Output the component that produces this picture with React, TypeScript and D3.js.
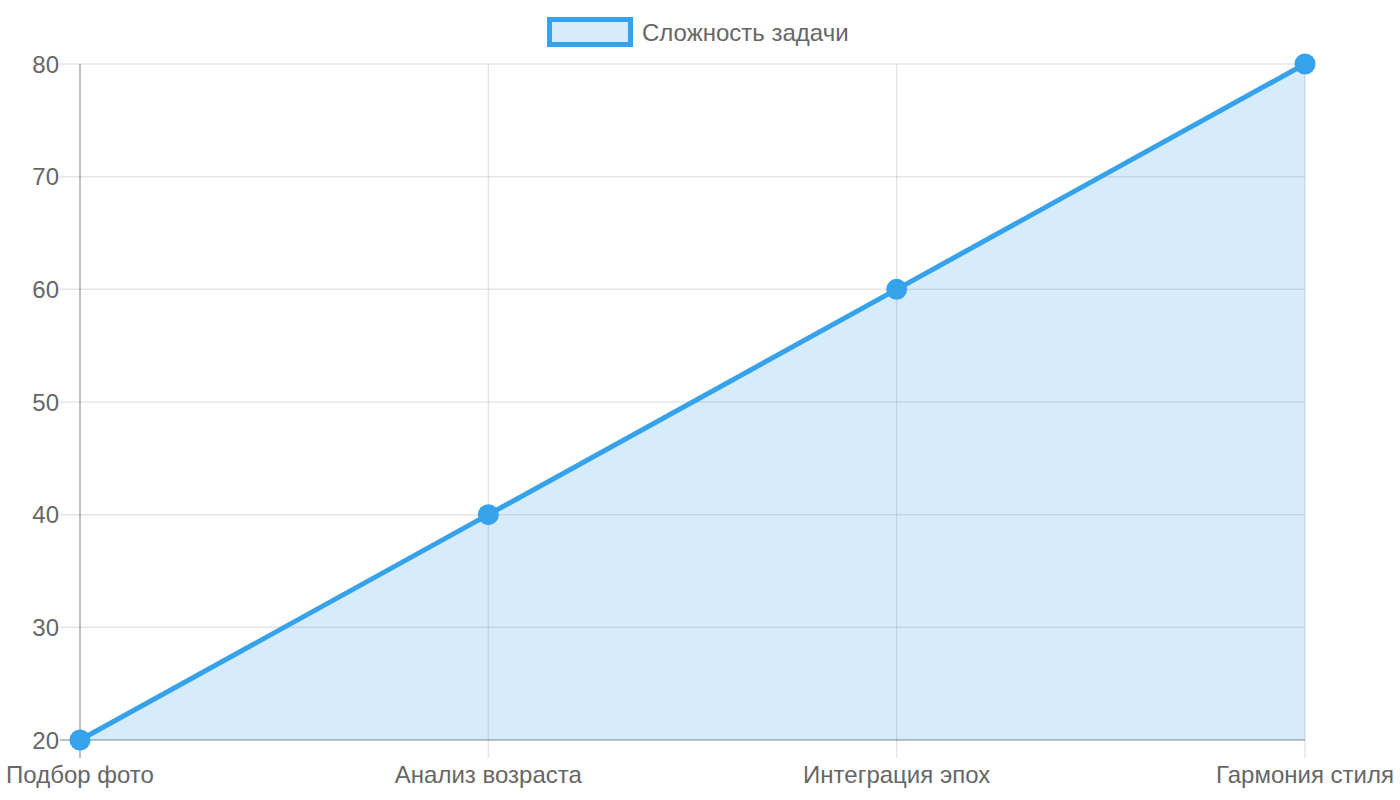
import * as d3 from 'd3';

const categories = ['Подбор фото', 'Анализ возраста', 'Интеграция эпох', 'Гармония стиля'];
const values = [20, 40, 60, 80];
const yTicks = [20, 30, 40, 50, 60, 70, 80];
const seriesName = 'Сложность задачи';

const WIDTH = 1400;
const HEIGHT = 800;
const MARGIN = { top: 64, right: 95, bottom: 60, left: 80 };
const FONT = '"Liberation Sans", Arial, sans-serif';
const LINE = '#36a2eb';
const FILL = 'rgba(54,162,235,0.2)';
const GRID = 'rgba(0,0,0,0.1)';
const AXIS = 'rgba(0,0,0,0.33)';

export default function App() {
  const boundsWidth = WIDTH - MARGIN.left - MARGIN.right;
  const boundsHeight = HEIGHT - MARGIN.top - MARGIN.bottom;

  const xScale = d3
    .scalePoint<string>()
    .domain(categories)
    .range([0, boundsWidth]);
  const yScale = d3.scaleLinear().domain([20, 80]).range([boundsHeight, 0]);

  const pts = categories.map((c, i) => ({ x: xScale(c) ?? 0, y: yScale(values[i]) }));
  const linePath = d3.line<{ x: number; y: number }>().x((d) => d.x).y((d) => d.y)(pts) ?? '';
  const areaPath =
    d3
      .area<{ x: number; y: number }>()
      .x((d) => d.x)
      .y0(boundsHeight)
      .y1((d) => d.y)(pts) ?? '';

  return (
    <svg
      width={WIDTH}
      height={HEIGHT}
      style={{ position: 'absolute', left: 0, top: 0, background: '#fff' }}
      fontFamily={FONT}
    >
      {/* Legend */}
      <g>
        <rect x={549.5} y={19.5} width={81} height={25} fill={FILL} stroke={LINE} strokeWidth={5} />
        <text x={642} y={32} dominantBaseline="central" fontSize={24} fill="#666">
          {seriesName}
        </text>
      </g>
      <g transform={`translate(${MARGIN.left},${MARGIN.top})`}>
        {/* horizontal grid + y ticks */}
        {yTicks.map((t) => (
          <g key={t}>
            <line
              x1={-20}
              x2={boundsWidth}
              y1={yScale(t)}
              y2={yScale(t)}
              stroke={t === 20 ? AXIS : GRID}
              strokeWidth={1.5}
            />
            <text
              x={-21}
              y={yScale(t)}
              textAnchor="end"
              dominantBaseline="central"
              fontSize={24}
              fill="#666"
            >
              {t}
            </text>
          </g>
        ))}
        {/* vertical grid + x ticks */}
        {categories.map((c, i) => (
          <g key={c}>
            <line
              x1={xScale(c) ?? 0}
              x2={xScale(c) ?? 0}
              y1={0}
              y2={boundsHeight + 18}
              stroke={i === 0 ? AXIS : GRID}
              strokeWidth={1.5}
            />
            <text
              x={xScale(c) ?? 0}
              y={boundsHeight + 34}
              textAnchor="middle"
              dominantBaseline="central"
              fontSize={24}
              fill="#666"
            >
              {c}
            </text>
          </g>
        ))}
        {/* area + line */}
        <path d={areaPath} fill={FILL} />
        <path d={linePath} fill="none" stroke={LINE} strokeWidth={5} />
        {pts.map((p, i) => (
          <circle key={i} cx={p.x} cy={p.y} r={10.5} fill={LINE} />
        ))}
      </g>
    </svg>
  );
}
